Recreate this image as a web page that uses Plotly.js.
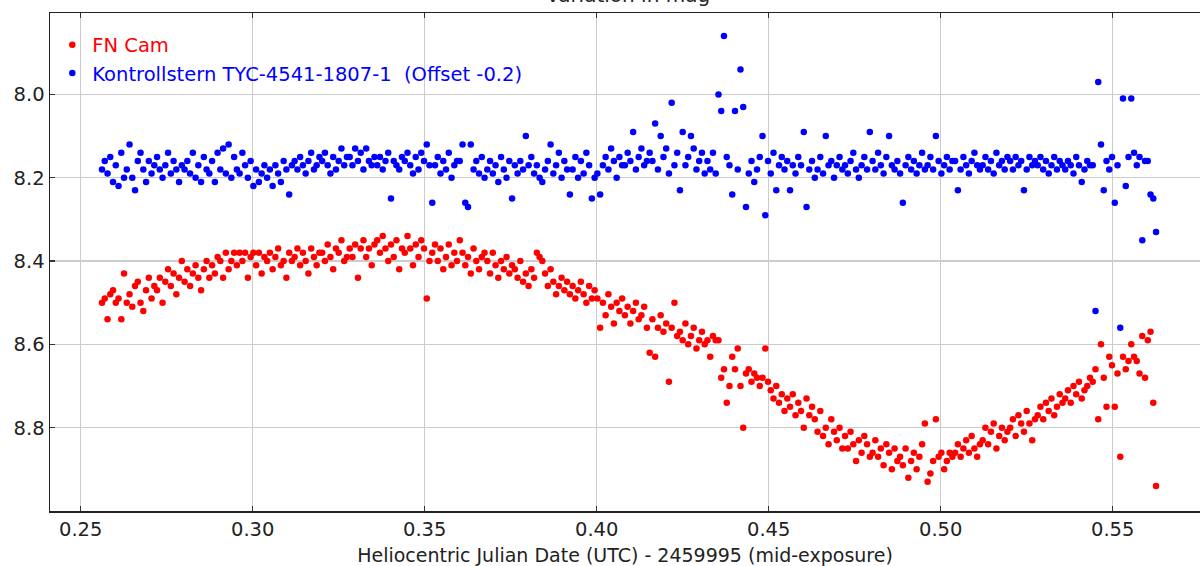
<!DOCTYPE html>
<html>
<head>
<meta charset="utf-8">
<script src="https://cdn.plot.ly/plotly-3.0.1.min.js"></script>
<style>
  html, body { margin: 0; padding: 0; background: #ffffff; }
  #chart { width: 1200px; height: 566px; }
</style>
</head>
<body>
<div id="chart"></div>
<script>
// Heliocentric Julian Date (UTC) - 2459995
const hjd = [
  0.2562,0.2570,0.2578,0.2586,0.2594,0.2602,0.2610,0.2618,0.2626,0.2634,
  0.2642,0.2650,0.2658,0.2666,0.2674,0.2682,0.2690,0.2698,0.2706,0.2714,
  0.2722,0.2730,0.2738,0.2746,0.2754,0.2762,0.2770,0.2778,0.2786,0.2794,
  0.2802,0.2810,0.2818,0.2826,0.2834,0.2842,0.2850,0.2858,0.2866,0.2874,
  0.2882,0.2890,0.2898,0.2906,0.2914,0.2922,0.2930,0.2938,0.2946,0.2954,
  0.2962,0.2970,0.2978,0.2986,0.2994,0.3002,0.3010,0.3018,0.3026,0.3034,
  0.3042,0.3050,0.3058,0.3066,0.3074,0.3082,0.3090,0.3098,0.3106,0.3114,
  0.3122,0.3130,0.3138,0.3146,0.3154,0.3162,0.3170,0.3178,0.3186,0.3194,
  0.3202,0.3210,0.3218,0.3226,0.3234,0.3242,0.3250,0.3258,0.3266,0.3274,
  0.3282,0.3290,0.3298,0.3306,0.3314,0.3322,0.3330,0.3338,0.3346,0.3354,
  0.3362,0.3370,0.3378,0.3386,0.3394,0.3402,0.3410,0.3418,0.3426,0.3434,
  0.3442,0.3450,0.3458,0.3466,0.3474,0.3482,0.3490,0.3498,0.3506,0.3514,
  0.3522,0.3530,0.3538,0.3546,0.3554,0.3562,0.3570,0.3578,0.3586,0.3594,
  0.3602,0.3610,0.3618,0.3626,0.3634,0.3642,0.3650,0.3658,0.3666,0.3674,
  0.3682,0.3690,0.3698,0.3706,0.3714,0.3722,0.3730,0.3738,0.3746,0.3754,
  0.3762,0.3770,0.3778,0.3786,0.3794,0.3802,0.3810,0.3818,0.3826,0.3834,
  0.3842,0.3850,0.3858,0.3866,0.3874,0.3882,0.3890,0.3898,0.3906,0.3914,
  0.3922,0.3930,0.3938,0.3946,0.3954,0.3962,0.3970,0.3978,0.3986,0.3994,
  0.4002,0.4010,0.4018,0.4026,0.4034,0.4042,0.4050,0.4058,0.4066,0.4074,
  0.4082,0.4090,0.4098,0.4106,0.4114,0.4122,0.4130,0.4138,0.4146,0.4154,
  0.4162,0.4170,0.4178,0.4186,0.4194,0.4202,0.4210,0.4218,0.4226,0.4234,
  0.4242,0.4250,0.4258,0.4266,0.4274,0.4282,0.4290,0.4298,0.4306,0.4314,
  0.4322,0.4330,0.4338,0.4346,0.4354,0.4362,0.4370,0.4378,0.4386,0.4394,
  0.4402,0.4410,0.4418,0.4426,0.4434,0.4442,0.4450,0.4458,0.4466,0.4474,
  0.4482,0.4490,0.4498,0.4506,0.4514,0.4522,0.4530,0.4538,0.4546,0.4554,
  0.4562,0.4570,0.4578,0.4586,0.4594,0.4602,0.4610,0.4618,0.4626,0.4634,
  0.4642,0.4650,0.4658,0.4666,0.4674,0.4682,0.4690,0.4698,0.4706,0.4714,
  0.4722,0.4730,0.4738,0.4746,0.4754,0.4762,0.4770,0.4778,0.4786,0.4794,
  0.4802,0.4810,0.4818,0.4826,0.4834,0.4842,0.4850,0.4858,0.4866,0.4874,
  0.4882,0.4890,0.4898,0.4906,0.4914,0.4922,0.4930,0.4938,0.4946,0.4954,
  0.4962,0.4970,0.4978,0.4986,0.4994,0.5002,0.5010,0.5018,0.5026,0.5034,
  0.5042,0.5050,0.5058,0.5066,0.5074,0.5082,0.5090,0.5098,0.5106,0.5114,
  0.5122,0.5130,0.5138,0.5146,0.5154,0.5162,0.5170,0.5178,0.5186,0.5194,
  0.5202,0.5210,0.5218,0.5226,0.5234,0.5242,0.5250,0.5258,0.5266,0.5274,
  0.5282,0.5290,0.5298,0.5306,0.5314,0.5322,0.5330,0.5338,0.5346,0.5354,
  0.5362,0.5370,0.5378,0.5386,0.5394,0.5402,0.5410,0.5418,0.5426,0.5434,
  0.5442,0.5450,0.5458,0.5466,0.5474,0.5482,0.5490,0.5498,0.5506,0.5514,
  0.5522,0.5530,0.5538,0.5546,0.5554,0.5562,0.5570,0.5578,0.5586,0.5594,
  0.5602,0.5610,0.5618,0.5626
];

// FN Cam magnitudes
const fnCam = [
  8.50,8.49,8.54,8.48,8.47,8.50,8.49,8.54,8.43,8.50,
  8.48,8.51,8.46,8.45,8.50,8.52,8.47,8.44,8.49,8.46,
  8.47,8.44,8.50,8.45,8.42,8.46,8.43,8.48,8.44,8.40,
  8.45,8.42,8.46,8.43,8.41,8.44,8.47,8.42,8.40,8.44,
  8.41,8.43,8.39,8.40,8.44,8.38,8.42,8.40,8.38,8.41,
  8.38,8.40,8.38,8.44,8.39,8.38,8.41,8.38,8.43,8.39,
  8.40,8.38,8.42,8.39,8.37,8.41,8.40,8.44,8.38,8.40,
  8.39,8.37,8.41,8.38,8.40,8.43,8.37,8.39,8.41,8.38,
  8.38,8.40,8.36,8.39,8.42,8.37,8.38,8.35,8.40,8.39,
  8.37,8.39,8.36,8.44,8.37,8.35,8.39,8.37,8.41,8.36,
  8.35,8.38,8.34,8.37,8.40,8.36,8.39,8.35,8.42,8.37,
  8.38,8.34,8.37,8.41,8.36,8.39,8.35,8.37,8.49,8.40,
  8.38,8.36,8.40,8.37,8.42,8.39,8.36,8.41,8.38,8.40,
  8.35,8.38,8.41,8.39,8.43,8.37,8.40,8.42,8.39,8.38,
  8.40,8.43,8.38,8.41,8.44,8.40,8.42,8.39,8.43,8.41,
  8.42,8.44,8.40,8.45,8.43,8.46,8.42,8.44,8.38,8.39,
  8.40,8.43,8.46,8.42,8.45,8.48,8.46,8.44,8.47,8.45,
  8.48,8.46,8.49,8.47,8.45,8.48,8.50,8.46,8.49,8.47,
  8.49,8.56,8.50,8.53,8.48,8.51,8.55,8.50,8.52,8.49,
  8.53,8.51,8.55,8.52,8.50,8.54,8.53,8.51,8.56,8.62,
  8.54,8.63,8.56,8.53,8.57,8.55,8.69,8.56,8.50,8.58,
  8.57,8.59,8.55,8.60,8.58,8.56,8.61,8.59,8.57,8.60,
  8.59,8.63,8.58,8.59,8.59,8.68,8.66,8.74,8.70,8.63,
  8.66,8.61,8.70,8.80,8.67,8.66,8.69,8.67,8.68,8.70,
  8.68,8.61,8.69,8.71,8.73,8.70,8.74,8.72,8.76,8.73,
  8.75,8.72,8.77,8.74,8.76,8.80,8.73,8.77,8.75,8.78,
  8.81,8.76,8.82,8.80,8.84,8.78,8.81,8.83,8.80,8.85,
  8.82,8.85,8.81,8.84,8.88,8.83,8.86,8.82,8.84,8.87,
  8.86,8.83,8.87,8.85,8.89,8.84,8.86,8.90,8.85,8.88,
  8.87,8.89,8.85,8.92,8.88,8.86,8.90,8.87,8.84,8.79,
  8.93,8.91,8.88,8.78,8.87,8.86,8.90,8.88,8.86,8.87,
  8.86,8.84,8.87,8.85,8.83,8.86,8.82,8.85,8.87,8.84,
  8.83,8.80,8.84,8.81,8.79,8.85,8.82,8.80,8.83,8.81,
  8.80,8.78,8.82,8.77,8.79,8.81,8.76,8.79,8.83,8.78,
  8.77,8.75,8.78,8.74,8.76,8.73,8.77,8.75,8.72,8.74,
  8.73,8.71,8.74,8.70,8.72,8.69,8.73,8.71,8.70,8.68,
  8.69,8.66,8.78,8.60,8.68,8.75,8.63,8.65,8.75,8.67,
  8.87,8.63,8.66,8.64,8.60,8.63,8.64,8.67,8.58,8.68,
  8.59,8.57,8.74,8.94
];

// Check star TYC-4541-1807-1, plotted with offset -0.2
const kontroll = [
  8.18,8.16,8.19,8.15,8.21,8.17,8.22,8.14,8.20,8.18,
  8.12,8.20,8.23,8.16,8.14,8.18,8.21,8.16,8.19,8.17,
  8.15,8.18,8.20,8.17,8.14,8.19,8.16,8.18,8.21,8.17,
  8.18,8.16,8.19,8.14,8.20,8.17,8.21,8.15,8.18,8.19,
  8.16,8.21,8.14,8.18,8.13,8.19,8.12,8.20,8.15,8.18,
  8.19,8.14,8.17,8.20,8.16,8.22,8.18,8.21,8.19,8.17,
  8.20,8.18,8.22,8.17,8.19,8.21,8.16,8.18,8.24,8.17,
  8.16,8.18,8.15,8.17,8.19,8.16,8.14,8.18,8.17,8.15,
  8.16,8.14,8.17,8.19,8.15,8.18,8.16,8.13,8.17,8.15,
  8.15,8.17,8.13,8.16,8.14,8.18,8.13,8.16,8.17,8.15,
  8.17,8.15,8.18,8.16,8.14,8.25,8.16,8.17,8.18,8.15,
  8.16,8.14,8.17,8.19,8.15,8.18,8.14,8.16,8.12,8.17,
  8.26,8.17,8.15,8.19,8.16,8.18,8.14,8.20,8.17,8.16,
  8.16,8.12,8.26,8.27,8.12,8.18,8.16,8.19,8.15,8.20,
  8.18,8.16,8.19,8.17,8.21,8.15,8.18,8.20,8.16,8.25,
  8.17,8.19,8.16,8.18,8.10,8.17,8.15,8.19,8.17,8.20,
  8.21,8.18,8.16,8.12,8.19,8.17,8.14,8.20,8.16,8.18,
  8.24,8.18,8.15,8.20,8.16,8.19,8.14,8.17,8.25,8.20,
  8.19,8.24,8.17,8.15,8.18,8.13,8.16,8.20,8.15,8.17,
  8.17,8.14,8.16,8.09,8.18,8.15,8.13,8.17,8.16,8.14,
  8.16,8.07,8.18,8.10,8.15,8.13,8.19,8.02,8.17,8.14,
  8.23,8.09,8.17,8.15,8.10,8.13,8.18,8.16,8.14,8.19,
  8.16,8.18,8.14,8.19,8.00,8.04,7.86,8.15,8.17,8.24,
  8.04,8.18,7.94,8.03,8.27,8.19,8.16,8.21,8.18,8.15,
  8.10,8.29,8.16,8.19,8.14,8.23,8.17,8.15,8.18,8.16,
  8.23,8.17,8.19,8.15,8.17,8.09,8.27,8.18,8.16,8.20,
  8.18,8.15,8.19,8.10,8.17,8.16,8.20,8.17,8.15,8.18,
  8.17,8.19,8.16,8.14,8.18,8.20,8.17,8.15,8.18,8.09,
  8.16,8.18,8.14,8.17,8.19,8.15,8.10,8.17,8.18,8.16,
  8.19,8.26,8.17,8.15,8.18,8.16,8.19,8.17,8.14,8.18,
  8.17,8.15,8.18,8.10,8.16,8.19,8.17,8.15,8.18,8.16,
  8.16,8.23,8.18,8.15,8.17,8.19,8.16,8.14,8.17,8.18,
  8.17,8.15,8.18,8.16,8.19,8.14,8.17,8.16,8.18,8.15,
  8.16,8.18,8.15,8.17,8.16,8.23,8.18,8.15,8.17,8.16,
  8.17,8.15,8.18,8.16,8.19,8.17,8.15,8.18,8.16,8.17,
  8.18,8.16,8.17,8.19,8.15,8.17,8.21,8.18,8.16,8.17,
  8.17,8.52,7.97,8.12,8.23,8.16,8.18,8.15,8.26,8.17,
  8.56,8.01,8.22,8.15,8.01,8.14,8.17,8.15,8.35,8.16,
  8.16,8.24,8.25,8.33
];

const seriesNames = ['FN Cam', 'Kontrollstern TYC-4541-1807-1 \u00a0(Offset -0.2)'];
const seriesColors = ['#ff0000', '#0000ff'];
const xTicks = [0.25, 0.30, 0.35, 0.40, 0.45, 0.50, 0.55];
const yTicks = [8.0, 8.2, 8.4, 8.6, 8.8];
const chartTitle = 'Variation in mag';
const xTitle = 'Heliocentric Julian Date (UTC) - 2459995 (mid-exposure)';

const FONT = '"DejaVu Sans", "Liberation Sans", sans-serif';

const traces = [fnCam, kontroll].map((ys, i) => ({
  type: 'scatter',
  mode: 'markers',
  x: hjd,
  y: ys,
  name: '<span style="color:' + seriesColors[i] + '">' + seriesNames[i] + '</span>',
  marker: { color: seriesColors[i], size: 6.5, line: { width: 0 } },
  hoverinfo: 'x+y'
}));

const axisCommon = {
  showline: true,
  linecolor: '#222222',
  linewidth: 1.5,
  ticks: 'inside',
  ticklen: 5,
  tickwidth: 1.5,
  tickcolor: '#333333',
  showgrid: true,
  gridcolor: '#cccccc',
  gridwidth: 1.5,
  zeroline: false,
  tickfont: { family: FONT, size: 19.5, color: '#222222' }
};

const layout = {
  width: 1200,
  height: 566,
  margin: { l: 50, r: 0, t: 13, b: 55, pad: 0 },
  paper_bgcolor: '#ffffff',
  plot_bgcolor: '#ffffff',
  font: { family: FONT, size: 19, color: '#222222' },
  showlegend: true,
  legend: {
    x: 0.002, y: 0.975, xanchor: 'left', yanchor: 'top',
    bgcolor: 'rgba(0,0,0,0)',
    font: { family: FONT, size: 19.5 },
    tracegroupgap: 0,
    itemclick: false, itemdoubleclick: false
  },
  xaxis: Object.assign({}, axisCommon, {
    range: [0.24108, 0.57538],
    autorange: false,
    tickmode: 'array',
    tickvals: xTicks,
    ticktext: xTicks.map(v => v.toFixed(2)),
    mirror: 'ticks',
    title: { text: xTitle, font: { family: FONT, size: 19, color: '#222222' }, standoff: 14 }
  }),
  yaxis: Object.assign({}, axisCommon, {
    range: [9.0, 7.8046],
    autorange: false,
    tickmode: 'array',
    tickvals: yTicks,
    ticktext: yTicks.map(v => v.toFixed(1)),
    mirror: false
  }),
  annotations: [{
    text: chartTitle,
    xref: 'paper', yref: 'paper',
    x: 0.503, y: 1, xanchor: 'center', yanchor: 'bottom',
    yshift: 4,
    showarrow: false,
    font: { family: FONT, size: 20, color: '#222222' }
  }]
};

Plotly.newPlot('chart', traces, layout, { staticPlot: true, displayModeBar: false });
</script>
</body>
</html>
